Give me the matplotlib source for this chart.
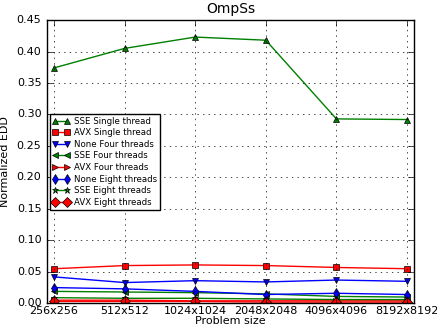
import numpy as np
import matplotlib
matplotlib.use("Agg")
import matplotlib.pyplot as plt

plt.style.use("classic")

sizes = ["256x256", "512x512", "1024x1024", "2048x2048", "4096x4096", "8192x8192"]

sse_single = [0.374, 0.405, 0.423, 0.418, 0.293, 0.292]
avx_single = [0.055, 0.060, 0.061, 0.060, 0.057, 0.055]
none_four = [0.042, 0.033, 0.036, 0.034, 0.037, 0.035]
sse_four = [0.019, 0.018, 0.017, 0.015, 0.011, 0.010]
avx_four = [0.005, 0.005, 0.004, 0.004, 0.004, 0.004]
none_eight = [0.025, 0.023, 0.019, 0.014, 0.016, 0.014]
sse_eight = [0.009, 0.008, 0.008, 0.007, 0.006, 0.006]
avx_eight = [0.003, 0.003, 0.003, 0.002, 0.002, 0.002]

series = [
    ("SSE Single thread", sse_single, "g", "^"),
    ("AVX Single thread", avx_single, "r", "s"),
    ("None Four threads", none_four, "b", "v"),
    ("SSE Four threads", sse_four, "g", "<"),
    ("AVX Four threads", avx_four, "r", ">"),
    ("None Eight threads", none_eight, "b", "d"),
    ("SSE Eight threads", sse_eight, "g", "*"),
    ("AVX Eight threads", avx_eight, "r", "D"),
]

fig = plt.figure(figsize=(4.37, 3.29), dpi=100, facecolor="white")
ax = fig.add_axes([0.1075, 0.078, 0.84, 0.861])

x = np.arange(len(sizes))
for label, vals, col, mk in series:
    ax.plot(x, vals, color=col, marker=mk, lw=1, ms=5, mec="k", label=label)

ax.set_xlim(-0.1, 5.1)
ax.set_ylim(0, 0.45)
ax.set_xticks(x)
ax.set_xticklabels(sizes, fontsize=8)
ax.set_yticks(np.arange(0, 0.451, 0.05))
ax.tick_params(labelsize=8)
ax.tick_params(axis="x", pad=2)
ax.set_xlabel("Problem size", fontsize=8, labelpad=0)
ax.set_ylabel("Normalized EDD", fontsize=8)
ax.set_title("OmpSs", fontsize=10)
ax.grid(True)
ax.legend(loc="center left", fontsize=6.2, numpoints=2, handlelength=2,
          borderpad=0.35, labelspacing=0.3, handletextpad=0.5,
          borderaxespad=0.3)

fig.savefig("out.png", dpi=100, facecolor="white")
